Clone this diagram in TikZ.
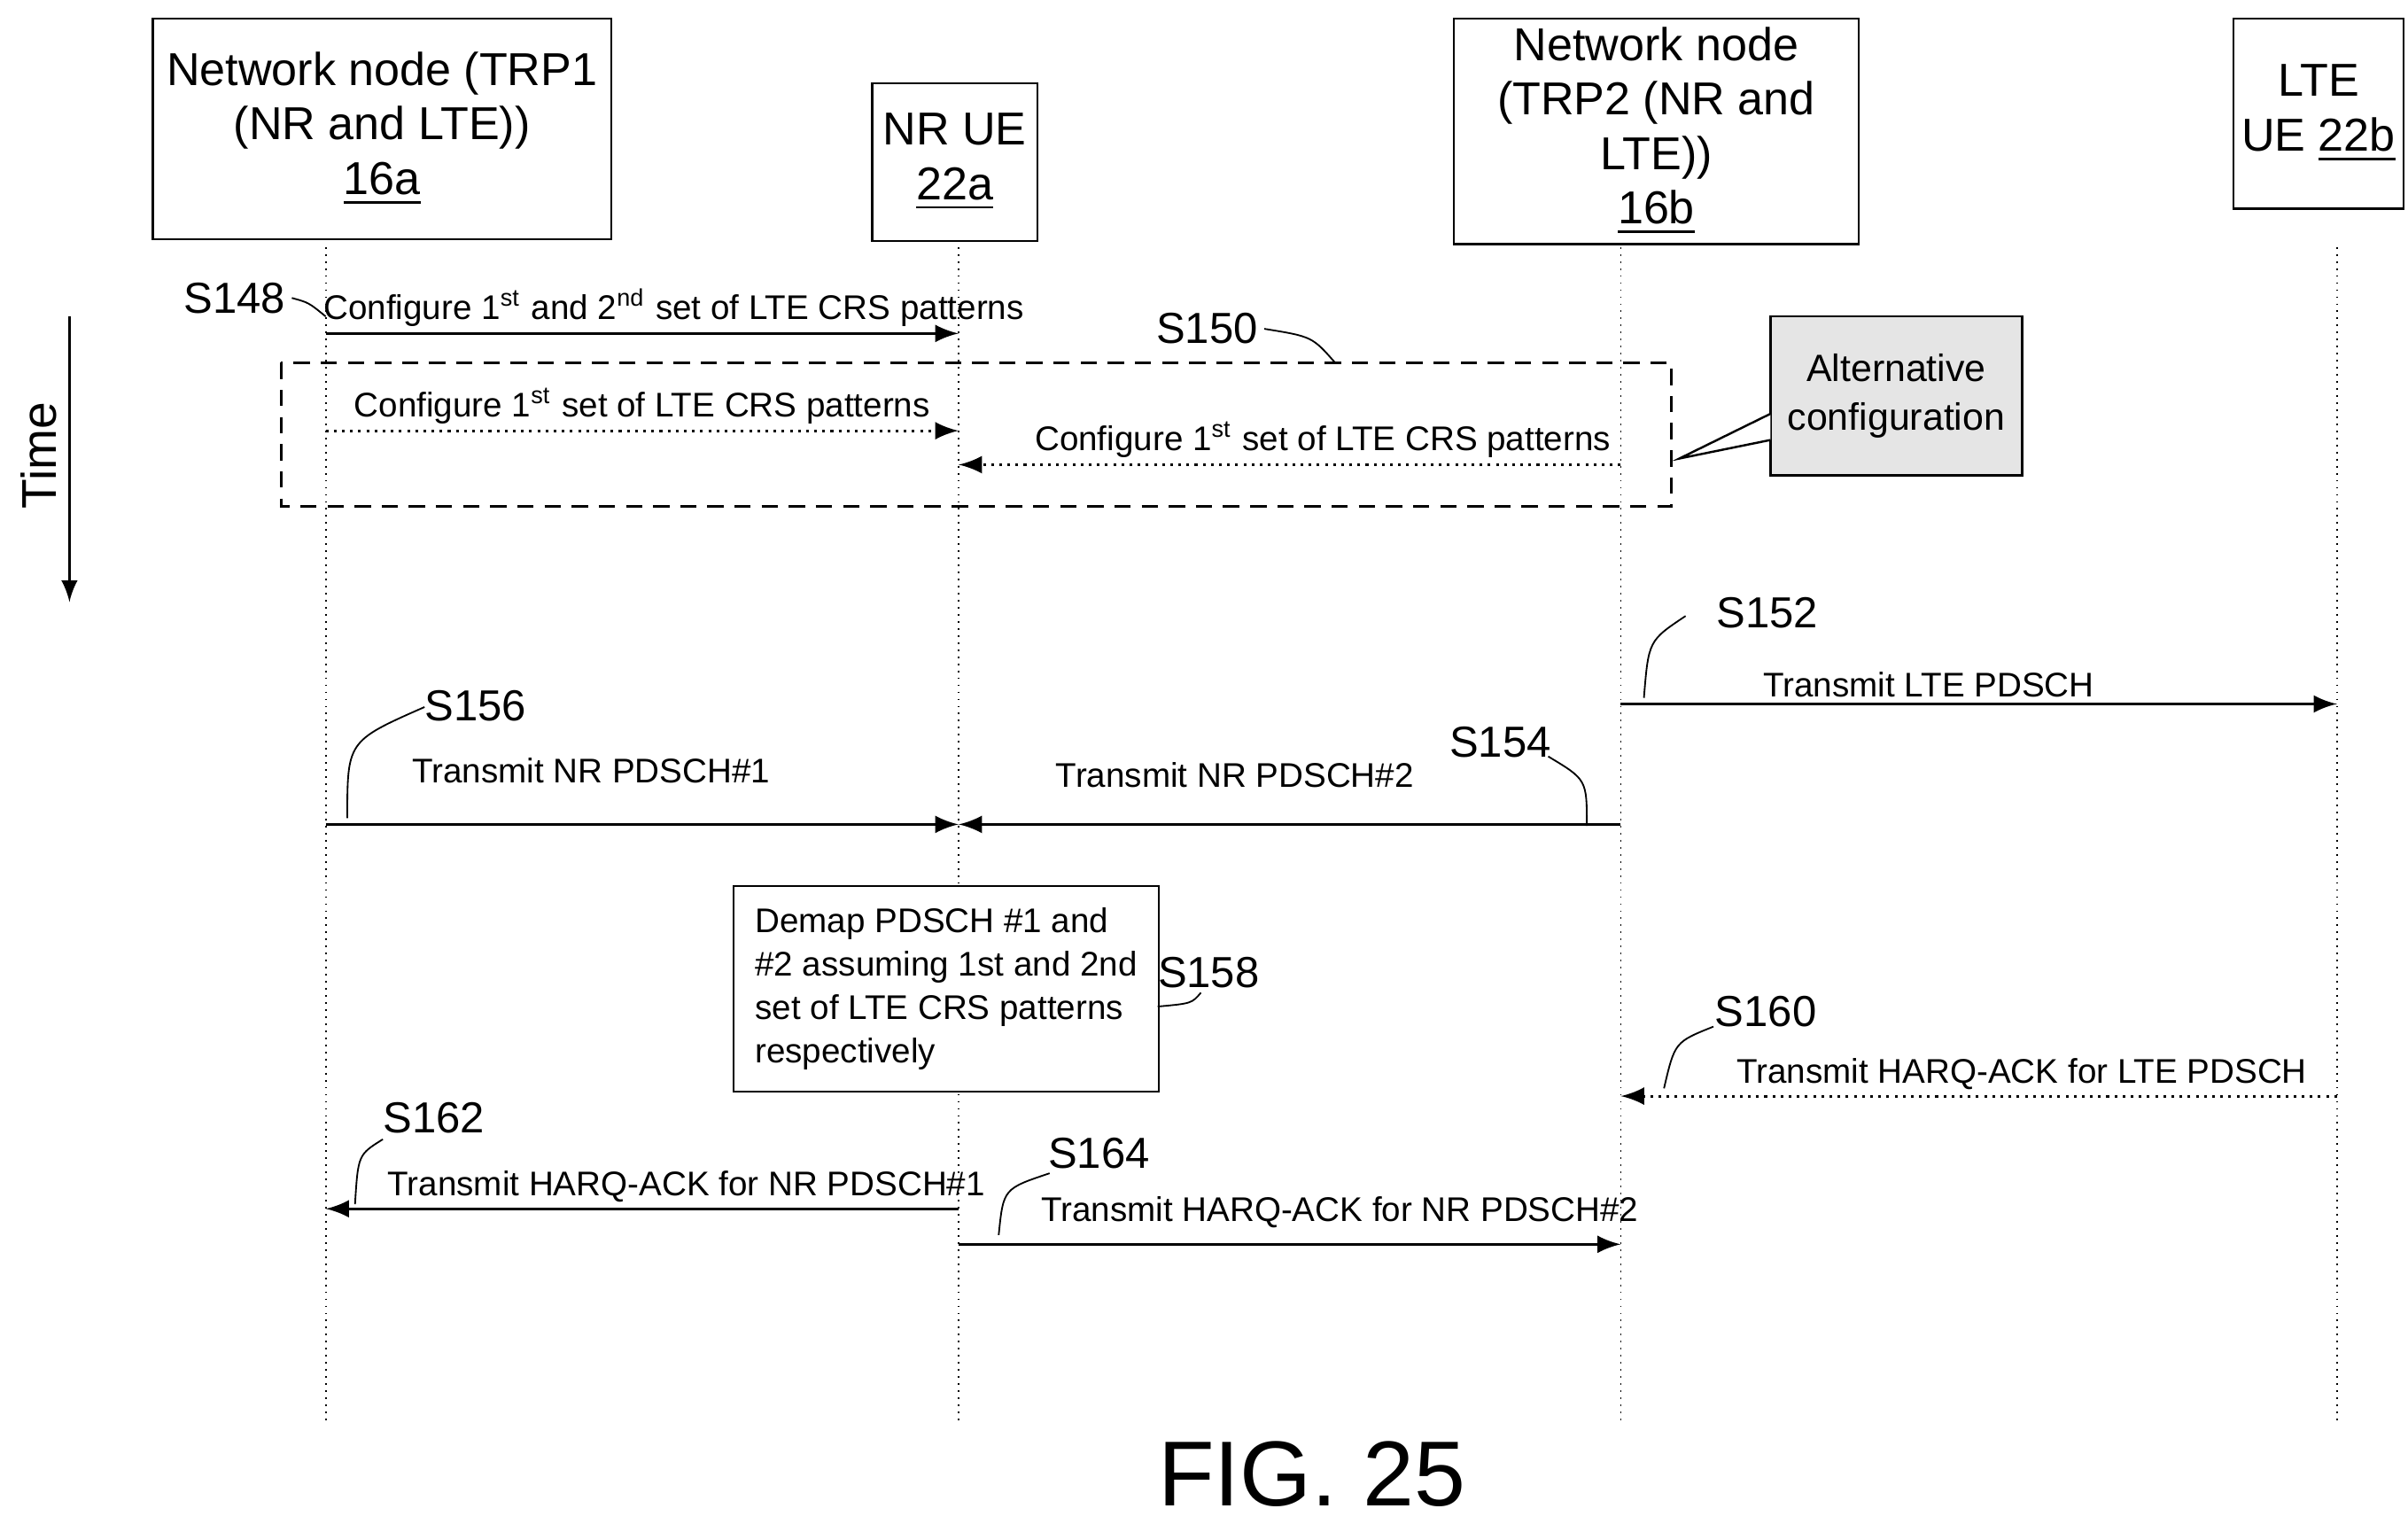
\documentclass[tikz,border=0pt]{standalone}
\usepackage{fontspec}
\setmainfont{Liberation Sans}
\usetikzlibrary{patterns}
\begin{document}
\begin{tikzpicture}[x=0.01cm,y=-0.01cm,
  ent/.style={draw,align=center,font=\fontsize{8.5}{10}\selectfont,inner sep=0pt},
  lbl/.style={font=\fontsize{6.3}{7.5}\selectfont,inner sep=1pt},
  stp/.style={font=\fontsize{8}{9}\selectfont,inner sep=1pt},
  msg/.style={-latex,line width=0.5pt},
  dmsg/.style={-latex,line width=0.5pt,densely dotted},
  life/.style={line width=0.3pt,densely dotted},
  hook/.style={line width=0.3pt}]
\useasboundingbox (0,0) rectangle (1560,987);
% entities
\node[ent,minimum width=2.97cm,minimum height=1.43cm] (trpa) at (247.5,83.5) {Network node (TRP1\\(NR and LTE))\\\underline{16a}};
\node[ent,minimum width=1.07cm,minimum height=1.02cm] (nrue) at (618.5,105) {NR UE\\\underline{22a}};
\node[ent,minimum width=2.62cm,minimum height=1.46cm] (trpb) at (1073,85) {Network node\\(TRP2 (NR and\\LTE))\\\underline{16b}};
\node[ent,minimum width=1.10cm,minimum height=1.23cm] (lteue) at (1502,73.5) {LTE\\UE \underline{22b}};
% lifelines
\foreach \n/\x in {a/211,b/621,c/1050,d/1514}{
  \coordinate (top\n) at (\x,160);
  \coordinate (bot\n) at (\x,920);
  \draw[life] (top\n) -- (bot\n);}
% time
\node[rotate=90,font=\fontsize{9}{10}\selectfont] (time) at (25,295) {Time};
\draw[-latex,line width=0.4pt] (45,205) -- (45,390);
% S148
\coordinate (a1) at (211,216); \coordinate (b1) at (621,216);
\draw[msg] (a1) -- node[lbl,above,pos=0.55] {Configure 1\textsuperscript{st} and 2\textsuperscript{nd} set of LTE CRS patterns} (b1);
\node[stp] (s148) at (152,193) {S148};
\draw[hook] (s148.east) .. controls (200,196) .. (211,205);
% S150
\draw[densely dashed,line width=0.5pt] (182,235) rectangle (1083,328);
\node[stp] (s150) at (782,213) {S150};
\draw[hook] (s150.east) .. controls (850,218) .. (865,235);
\coordinate (a2) at (211,279); \coordinate (b2) at (621,279);
\draw[dmsg] (a2) -- node[lbl,above] {Configure 1\textsuperscript{st} set of LTE CRS patterns} (b2);
\coordinate (c3) at (1050,301); \coordinate (b3) at (621,301);
\draw[dmsg] (c3) -- node[lbl,above,pos=0.45] {Configure 1\textsuperscript{st} set of LTE CRS patterns} (b3);
% callout
\node[draw,fill=gray!20,minimum width=1.63cm,minimum height=1.03cm,inner sep=0pt] (alt) at (1228.5,256.5) {};
\node[lbl,align=center,font=\fontsize{7}{9}\selectfont] at (alt) {Alternative\\configuration};
\draw[fill=white,line width=0.4pt] (1147,268) -- (1088,297) -- (1147,285);
% S152
\coordinate (c4) at (1050,456); \coordinate (d4) at (1514,456);
\draw[msg] (c4) -- node[lbl,above,pos=0.43] {Transmit LTE PDSCH} (d4);
\node[stp] (s152) at (1145,397) {S152};
\draw[hook] (1065,452) .. controls (1068,415) .. (1092,399);
% S156 / S154
\coordinate (a5) at (211,534); \coordinate (b5) at (621,534); \coordinate (c5) at (1050,534);
\draw[msg] (a5) -- (b5);
\node[lbl] at (383,499) {Transmit NR PDSCH\#1};
\node[stp] (s156) at (308,457) {S156};
\draw[hook] (225,530) .. controls (225,480) .. (275,458);
\draw[msg] (c5) -- (b5);
\node[lbl] at (800,502) {Transmit NR PDSCH\#2};
\node[stp] (s154) at (972,481) {S154};
\draw[hook] (1003,490) .. controls (1028,505) .. (1028,535);
% S158
\node[draw,align=left,lbl,font=\fontsize{6.3}{8}\selectfont,minimum width=2.72cm,minimum height=1.29cm,inner sep=4pt,fill=white] (demap) at (613,640.5) {Demap PDSCH \#1 and\\\#2 assuming 1st and 2nd\\set of LTE CRS patterns\\respectively};
\node[stp] (s158) at (783,630) {S158};
\draw[hook] (750,652) .. controls (772,650) .. (778,643);
% S160
\coordinate (d6) at (1514,710); \coordinate (c6) at (1050,710);
\draw[dmsg] (d6) -- node[lbl,above,pos=0.44] {Transmit HARQ-ACK for LTE PDSCH} (c6);
\node[stp] (s160) at (1144,655) {S160};
\draw[hook] (1110,665) .. controls (1085,675) .. (1078,705);
% S162
\coordinate (b7) at (621,783); \coordinate (a7) at (211,783);
\draw[msg] (b7) -- node[lbl,above,pos=0.43] {Transmit HARQ-ACK for NR PDSCH\#1} (a7);
\node[stp] (s162) at (281,724) {S162};
\draw[hook] (248,738) .. controls (232,748) .. (230,780);
% S164
\coordinate (b8) at (621,806); \coordinate (c8) at (1050,806);
\draw[msg] (b8) -- (c8);
\node[lbl] at (868,785) {Transmit HARQ-ACK for NR PDSCH\#2};
\node[stp] (s164) at (712,747) {S164};
\draw[hook] (680,760) .. controls (650,770) .. (647,800);
% figure
\node[font=\fontsize{17}{19}\selectfont] (fig) at (850,955) {FIG. 25};
\end{tikzpicture}
\end{document}
